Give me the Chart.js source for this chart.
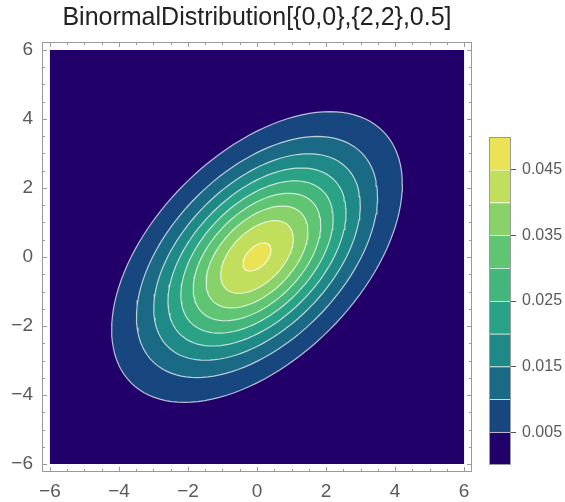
<!DOCTYPE html>
<html>
<head>
<meta charset="utf-8">
<script src="https://cdn.jsdelivr.net/npm/chart.js@4.4.1/dist/chart.umd.min.js"></script>
<style>
  html, body { margin: 0; padding: 0; background: #fff; }
  #wrap { position: relative; width: 565px; height: 502px; }
  #main { position: absolute; left: 0; top: 0; }
  #bar { position: absolute; left: 486px; top: 117px; }
</style>
</head>
<body>
<div id="wrap">
  <canvas id="main" width="480" height="502"></canvas>
  <canvas id="bar" width="79" height="368"></canvas>
</div>
<script>
// distribution shown in the title
const TITLE = 'BinormalDistribution[{0,0},{2,2},0.5]';
const MEAN = [0, 0];
const SIGMA = [2, 2];
const RHO = 0.5;

// plot range and ticks
const PLOT_RANGE = [-6, 6];
const MAJOR_TICKS = [-6, -4, -2, 0, 2, 4, 6];
const MINOR_STEP = 0.5;

// contour levels and band colours (band 0 = below first level)
const LEVELS = [0.005, 0.010, 0.015, 0.020, 0.025, 0.030, 0.035, 0.040, 0.045];
const BAND_COLORS = ['#21006a', '#18477f', '#1a6985', '#1f8988', '#29a285',
                     '#44b67b', '#5fc573', '#89d26a', '#c1de5c', '#ebe356'];
const BAR_TICKS = [0.005, 0.015, 0.025, 0.035, 0.045];
const BAR_MAX = 0.05;

const FRAME = '#9a9a9a';
const LABEL = '#5a5a5a';
const FONT = '"Liberation Sans", Arial, sans-serif';
const PAD = 0.23; // frame padding in plot units

function minus(v) { return v < 0 ? '\u2212' + Math.abs(v) : String(v); }

// level set of the binormal density
function contour(level) {
  const [s1, s2] = SIGMA;
  const r = Math.sqrt(1 - RHO * RHO);
  const peak = 1 / (2 * Math.PI * s1 * s2 * r);
  const q = Math.sqrt(2 * Math.log(peak / level));
  const pts = [];
  const n = 120;
  for (let k = 0; k <= n; k++) {
    const t = 2 * Math.PI * k / n;
    pts.push({
      x: MEAN[0] + q * s1 * Math.cos(t),
      y: MEAN[1] + q * s2 * (RHO * Math.cos(t) + r * Math.sin(t))
    });
  }
  return pts;
}

const allTicks = [];
for (let v = PLOT_RANGE[0]; v <= PLOT_RANGE[1] + 1e-9; v += MINOR_STEP) allTicks.push(v);

const [lo, hi] = PLOT_RANGE;
const datasets = [{
  data: [{x: lo, y: lo}, {x: hi, y: lo}, {x: hi, y: hi}, {x: lo, y: hi}, {x: lo, y: lo}],
  backgroundColor: BAND_COLORS[0],
  borderWidth: 0,
  fill: 'shape',
  order: 1
}];
LEVELS.forEach((lev, i) => {
  datasets.push({
    data: contour(lev),
    backgroundColor: BAND_COLORS[i + 1],
    borderColor: 'rgba(255,255,255,0.7)',
    borderWidth: 1.2,
    fill: 'shape',
    order: -i
  });
});

const framePlugin = {
  id: 'frame',
  afterDraw(chart) {
    const {ctx, chartArea: a, scales: {x, y}} = chart;
    ctx.save();
    ctx.strokeStyle = FRAME;
    ctx.lineWidth = 1;
    ctx.strokeRect(Math.round(a.left) + 0.5, Math.round(a.top) + 0.5,
                   Math.round(a.right - a.left) - 1, Math.round(a.bottom - a.top) - 1);
    ctx.beginPath();
    allTicks.forEach(v => {
      const len = MAJOR_TICKS.includes(v) ? 5 : 3;
      const px = Math.round(x.getPixelForValue(v)) + 0.5;
      ctx.moveTo(px, a.bottom); ctx.lineTo(px, a.bottom - len);
      ctx.moveTo(px, a.top); ctx.lineTo(px, a.top + len);
      const py = Math.round(y.getPixelForValue(v)) + 0.5;
      ctx.moveTo(a.left, py); ctx.lineTo(a.left + len, py);
      ctx.moveTo(a.right, py); ctx.lineTo(a.right - len, py);
    });
    ctx.stroke();
    ctx.restore();
  }
};

const axisOpts = (fit) => ({
  type: 'linear',
  min: lo - PAD,
  max: hi + PAD,
  afterBuildTicks: s => { s.ticks = MAJOR_TICKS.map(v => ({value: v})); },
  afterFit: fit,
  grid: { display: false, drawTicks: false },
  border: { display: false },
  ticks: {
    autoSkip: false, maxRotation: 0, color: LABEL,
    font: { family: FONT, size: 19 },
    callback: v => minus(v)
  }
});

const xOpts = axisOpts(s => { s.height = 30; });
xOpts.ticks.padding = 8;
const yOpts = axisOpts(s => { s.width = 42; });
yOpts.ticks.padding = 9;

new Chart(document.getElementById('main'), {
  type: 'line',
  data: { datasets },
  options: {
    responsive: false,
    animation: false,
    devicePixelRatio: 1,
    layout: { padding: { left: 0, right: 8, top: 0, bottom: 0 } },
    elements: { point: { radius: 0 }, line: { tension: 0 } },
    plugins: {
      legend: { display: false },
      tooltip: { enabled: false },
      title: {
        display: true, text: TITLE, fullSize: false,
        color: '#222', font: { family: FONT, size: 25, weight: 'normal' },
        padding: { top: 3, bottom: 9 }
      }
    },
    scales: { x: xOpts, y: yOpts }
  },
  plugins: [framePlugin]
});

// colour bar
const edges = [0, ...LEVELS, BAR_MAX];
const barSets = BAND_COLORS.map((c, i) => ({
  data: [[edges[i], edges[i + 1]]],
  backgroundColor: c,
  borderColor: 'rgba(255,255,255,0.45)',
  borderWidth: { top: i < BAND_COLORS.length - 1 ? 1 : 0, bottom: 0, left: 0, right: 0 },
  borderSkipped: false,
  barPercentage: 1,
  categoryPercentage: 1,
  grouped: false
}));

const barFrame = {
  id: 'barFrame',
  afterDraw(chart) {
    const {ctx, chartArea: a} = chart;
    ctx.save();
    ctx.strokeStyle = FRAME;
    ctx.lineWidth = 1;
    ctx.strokeRect(Math.round(a.left) + 0.5, Math.round(a.top) + 0.5,
                   Math.round(a.right - a.left) - 1, Math.round(a.bottom - a.top) - 1);
    ctx.restore();
  }
};

new Chart(document.getElementById('bar'), {
  type: 'bar',
  data: { labels: [''], datasets: barSets },
  options: {
    responsive: false,
    animation: false,
    devicePixelRatio: 1,
    layout: { padding: { left: 3, right: 0, top: 20, bottom: 20 } },
    plugins: { legend: { display: false }, tooltip: { enabled: false } },
    scales: {
      x: { display: false },
      y: {
        position: 'right',
        min: 0, max: BAR_MAX,
        afterBuildTicks: s => { s.ticks = BAR_TICKS.map(v => ({value: v})); },
        afterFit: s => { s.width = 54; },
        grid: { drawOnChartArea: false, drawTicks: true, tickLength: 5, color: '#555' },
        border: { display: false },
        ticks: {
          padding: 6, color: LABEL,
          font: { family: FONT, size: 16 },
          callback: v => v.toFixed(3)
        }
      }
    }
  },
  plugins: [barFrame]
});
</script>
</body>
</html>
